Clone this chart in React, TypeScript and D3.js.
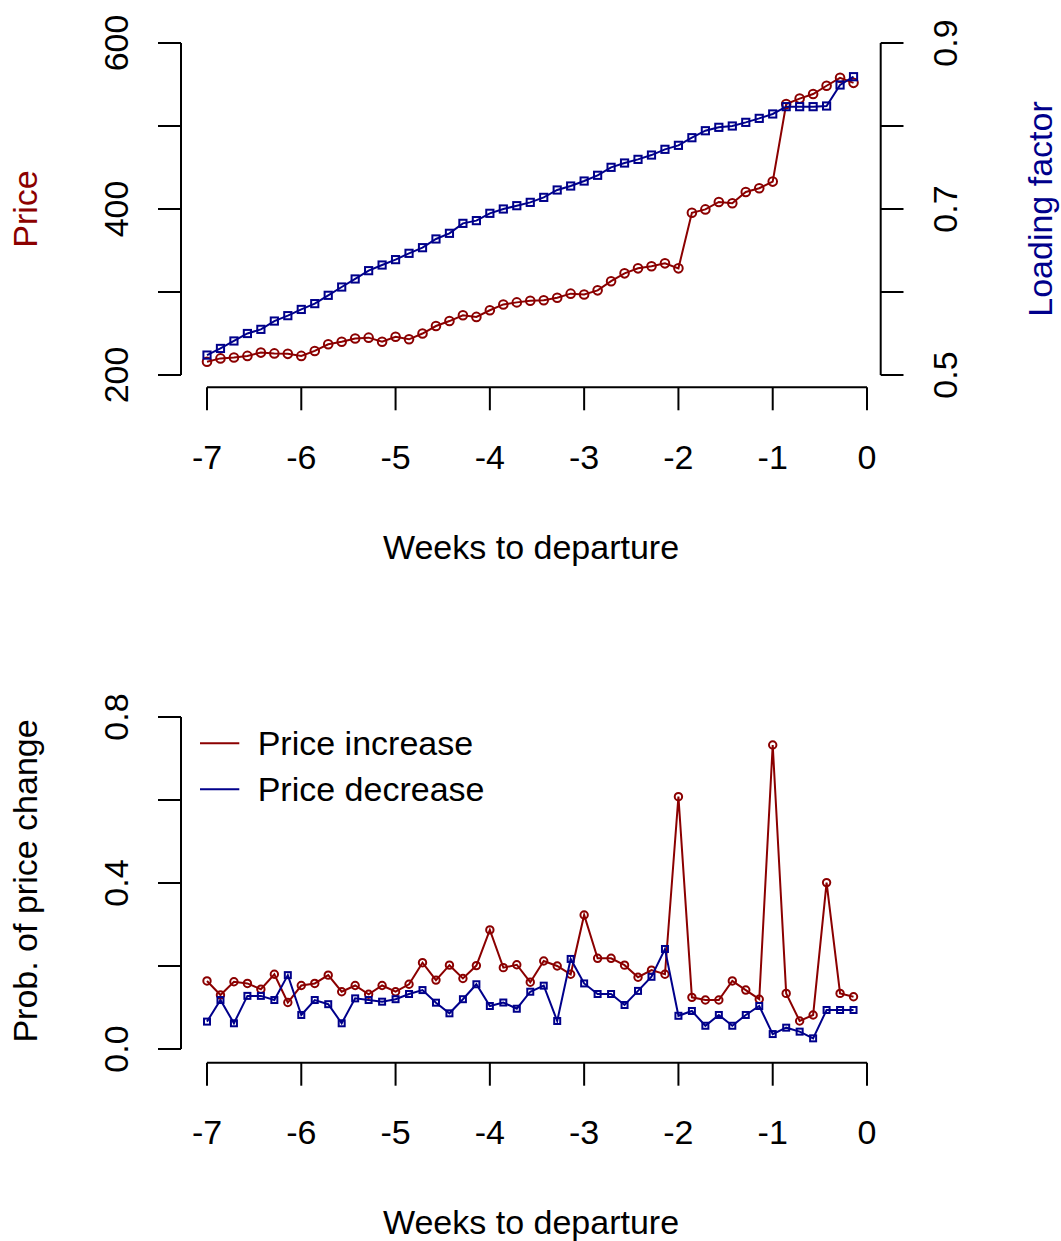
import React from "react";
import * as d3 from "d3";

// ---- data ----
const days: number[] = d3.range(49).map((i) => i);
const price: number[] = [216, 220, 221, 223, 227, 226, 225.5, 223, 229, 237, 240, 244, 245, 240, 246, 243, 250, 259, 265, 272, 270, 278, 285, 287.5, 289.5, 290, 293, 298, 297, 302, 313, 322.5, 328.5, 331, 334.5, 328.5, 395.5, 399.5, 408.5, 407, 420.5, 425, 433, 526.5, 533, 538.5, 548.5, 558, 552];
const loading: number[] = [0.524, 0.532, 0.541, 0.55, 0.555, 0.565, 0.5715, 0.579, 0.586, 0.596, 0.606, 0.6157, 0.6257, 0.6325, 0.639, 0.6466, 0.6534, 0.6639, 0.6707, 0.6827, 0.686, 0.6948, 0.7, 0.704, 0.708, 0.714, 0.7229, 0.7277, 0.7337, 0.7406, 0.7502, 0.7554, 0.7598, 0.765, 0.7719, 0.7767, 0.7859, 0.7943, 0.7984, 0.8, 0.8044, 0.8092, 0.8145, 0.8233, 0.8233, 0.8233, 0.8241, 0.8494, 0.8594];
const probIncrease: number[] = [0.164, 0.13, 0.162, 0.158, 0.144, 0.18, 0.112, 0.153, 0.158, 0.178, 0.138, 0.153, 0.132, 0.153, 0.138, 0.156, 0.208, 0.166, 0.202, 0.17, 0.201, 0.287, 0.196, 0.203, 0.161, 0.212, 0.2, 0.18, 0.323, 0.2185, 0.2185, 0.202, 0.173, 0.19, 0.18, 0.608, 0.1245, 0.118, 0.118, 0.164, 0.142, 0.12, 0.7325, 0.134, 0.0675, 0.082, 0.401, 0.134, 0.126];
const probDecrease: number[] = [0.066, 0.118, 0.062, 0.128, 0.128, 0.118, 0.178, 0.082, 0.118, 0.108, 0.062, 0.122, 0.118, 0.114, 0.12, 0.1325, 0.142, 0.1116, 0.086, 0.12, 0.156, 0.1036, 0.112, 0.097, 0.138, 0.1526, 0.0675, 0.217, 0.158, 0.1325, 0.1325, 0.106, 0.14, 0.174, 0.241, 0.08, 0.0916, 0.056, 0.082, 0.056, 0.082, 0.1036, 0.036, 0.0514, 0.0418, 0.0257, 0.094, 0.094, 0.094];

const xTicks: number[] = [-7, -6, -5, -4, -3, -2, -1, 0];
const priceTicks: number[] = [200, 300, 400, 500, 600];
const priceLabels: number[] = [200, 400, 600];
const loadTicks: number[] = [0.5, 0.6, 0.7, 0.8, 0.9];
const loadLabels: number[] = [0.5, 0.7, 0.9];
const probTicks: number[] = [0, 0.2, 0.4, 0.6, 0.8];
const probLabels: number[] = [0, 0.4, 0.8];
const legendItems: string[] = ["Price increase", "Price decrease"];

const RED = "#8B0000";
const BLUE = "#00008B";
const FONT = "'Liberation Sans', Arial, Helvetica, sans-serif";
const FS = 34;

const weeks = (i: number) => -7 + i / 7;

export default function App() {
  const x = d3.scaleLinear().domain([-7, 0]).range([207, 867]);
  const yPrice = d3.scaleLinear().domain([200, 600]).range([375, 43]);
  const yLoad = d3.scaleLinear().domain([0.5, 0.9]).range([375, 43]);
  const yProb = d3.scaleLinear().domain([0, 0.8]).range([1049, 717]);
  const titleX = 531;

  const lineOf = (vals: number[], y: d3.ScaleLinear<number, number>) =>
    d3
      .line<number>()
      .x((i) => x(weeks(i)))
      .y((i) => y(vals[i]))(days) || "";

  const circles = (vals: number[], y: any, r: number, color: string) =>
    days.map((i) => (
      <circle key={i} cx={x(weeks(i))} cy={y(vals[i])} r={r} fill="none" stroke={color} strokeWidth={2} />
    ));
  const squares = (vals: number[], y: any, s: number, color: string) =>
    days.map((i) => (
      <rect key={i} x={x(weeks(i)) - s / 2} y={y(vals[i]) - s / 2} width={s} height={s} fill="none" stroke={color} strokeWidth={2} />
    ));

  const xAxis = (yLine: number, labelBase: number, titleBase: number) => (
    <g>
      <line x1={x(-7)} x2={x(0)} y1={yLine} y2={yLine} stroke="black" strokeWidth={2} />
      {xTicks.map((t) => (
        <line key={t} x1={x(t)} x2={x(t)} y1={yLine} y2={yLine + 23} stroke="black" strokeWidth={2} />
      ))}
      {xTicks.map((t) => (
        <text key={"l" + t} x={x(t)} y={labelBase} textAnchor="middle" fontSize={FS} fontFamily={FONT}>
          {t}
        </text>
      ))}
      <text x={titleX} y={titleBase} textAnchor="middle" fontSize={FS} fontFamily={FONT}>
        Weeks to departure
      </text>
    </g>
  );

  const yAxisLeft = (scale: any, ticks: number[], labels: number[], fmt: (v: number) => string) => (
    <g>
      <line x1={181} x2={181} y1={scale(ticks[0])} y2={scale(ticks[ticks.length - 1])} stroke="black" strokeWidth={2} />
      {ticks.map((t) => (
        <line key={t} x1={158} x2={181} y1={scale(t)} y2={scale(t)} stroke="black" strokeWidth={2} />
      ))}
      {labels.map((t) => (
        <text key={"l" + t} transform={`translate(127.7,${scale(t)}) rotate(-90)`} textAnchor="middle" fontSize={FS} fontFamily={FONT}>
          {fmt(t)}
        </text>
      ))}
    </g>
  );

  return (
    <svg width={1061} height={1241} style={{ position: "absolute", left: 0, top: 0, background: "white" }}>
      <rect x={0} y={0} width={1061} height={1241} fill="white" />
      {/* Top panel */}
      {yAxisLeft(yPrice, priceTicks, priceLabels, (v) => String(v))}
      <g>
        <line x1={880.7} x2={880.7} y1={yLoad(0.5)} y2={yLoad(0.9)} stroke="black" strokeWidth={2} />
        {loadTicks.map((t) => (
          <line key={t} x1={880.7} x2={903.5} y1={yLoad(t)} y2={yLoad(t)} stroke="black" strokeWidth={2} />
        ))}
        {loadLabels.map((t) => (
          <text key={"l" + t} transform={`translate(956.7,${yLoad(t)}) rotate(-90)`} textAnchor="middle" fontSize={FS} fontFamily={FONT}>
            {t.toFixed(1)}
          </text>
        ))}
      </g>
      <text transform="translate(36.7,209) rotate(-90)" textAnchor="middle" fontSize={FS} fontFamily={FONT} fill={RED}>
        Price
      </text>
      <text transform="translate(1052,209) rotate(-90)" textAnchor="middle" fontSize={FS} fontFamily={FONT} fill={BLUE}>
        Loading factor
      </text>
      {xAxis(387.3, 469, 558.5)}
      <path d={lineOf(price, yPrice)} fill="none" stroke={RED} strokeWidth={2} />
      {circles(price, yPrice, 4.3, RED)}
      <path d={lineOf(loading, yLoad)} fill="none" stroke={BLUE} strokeWidth={2} />
      {squares(loading, yLoad, 7.2, BLUE)}

      {/* Bottom panel */}
      {yAxisLeft(yProb, probTicks, probLabels, (v) => v.toFixed(1))}
      <text transform="translate(37,881) rotate(-90)" textAnchor="middle" fontSize={FS} fontFamily={FONT}>
        Prob. of price change
      </text>
      {xAxis(1062.7, 1144, 1234)}
      <path d={lineOf(probIncrease, yProb)} fill="none" stroke={RED} strokeWidth={2} />
      {circles(probIncrease, yProb, 3.7, RED)}
      <path d={lineOf(probDecrease, yProb)} fill="none" stroke={BLUE} strokeWidth={2} />
      {squares(probDecrease, yProb, 6, BLUE)}

      {/* Legend */}
      {legendItems.map((name, k) => (
        <g key={name}>
          <line x1={200} x2={239.3} y1={743.3 + k * 46} y2={743.3 + k * 46} stroke={k === 0 ? RED : BLUE} strokeWidth={2} />
          <text x={257.7} y={755 + k * 45.5} fontSize={FS} fontFamily={FONT}>
            {name}
          </text>
        </g>
      ))}
    </svg>
  );
}
